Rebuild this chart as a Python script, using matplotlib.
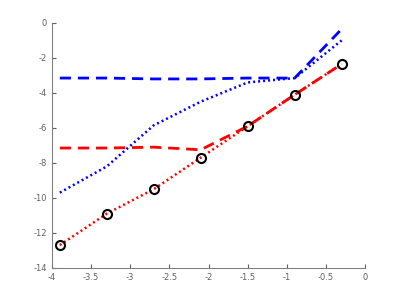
import matplotlib
matplotlib.use('Agg')
import matplotlib.pyplot as plt

# dados
x = [-3.9, -3.3, -2.7, -2.1, -1.5, -0.9, -0.3]
circulos = [-12.7, -10.9, -9.5, -7.7, -5.9, -4.1, -2.35]
azul_tracejado = [-3.15, -3.15, -3.2, -3.2, -3.15, -3.15, -0.35]
azul_pontilhado = [-9.7, -8.2, -5.85, -4.5, -3.4, -3.15, -1.0]
verm_tracejado = [-7.15, -7.15, -7.1, -7.25, -5.9, -4.1, -2.35]
xticks = [-4, -3.5, -3, -2.5, -2, -1.5, -1, -0.5, 0]
yticks = [0, -2, -4, -6, -8, -10, -12, -14]

plt.rcParams['axes.unicode_minus'] = False

fig = plt.figure(figsize=(4.03, 3.02), dpi=100)
ax = fig.add_axes([0.129, 0.113, 0.777, 0.811])

ax.plot(x, azul_tracejado, color='blue', ls=(0, (4, 2.5)), lw=2)
ax.plot(x, azul_pontilhado, color='blue', ls=(0, (0.8, 1.2)), lw=1.8)
ax.plot(x, verm_tracejado, color='red', ls=(0, (4, 2.5)), lw=2)
ax.plot(x, circulos, color='red', ls=(0, (0.8, 1.2)), lw=1.8)
ax.plot(x, circulos, ls='none', marker='o', ms=6.5, mfc='none', mec='black', mew=1.5)

ax.set_xlim(-4, 0)
ax.set_ylim(-14, 0)
ax.set_xticks(xticks)
ax.set_xticklabels([f'{v:g}' for v in xticks])
ax.set_yticks(yticks)
ax.set_yticklabels([f'{v:g}' for v in yticks])

for lado in ['top', 'right']:
    ax.spines[lado].set_visible(False)
for lado in ['left', 'bottom']:
    ax.spines[lado].set_color('#808080')
ax.tick_params(direction='in', length=3, labelsize=6, colors='#606060', width=0.8)

plt.savefig('out.png', dpi=100)
plt.close()
